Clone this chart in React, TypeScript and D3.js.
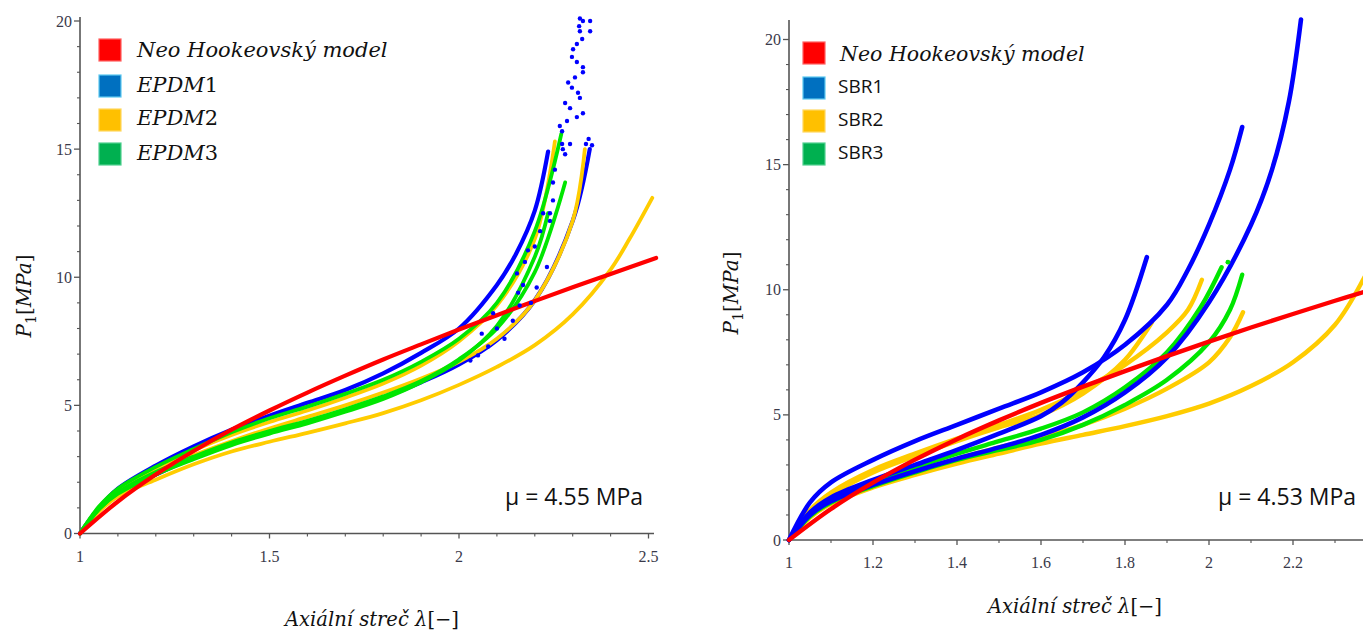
import React from 'react';
import * as d3 from 'd3';

type Pt = [number, number];

// ---------- shared tick values ----------
const yTickValues = [0, 5, 10, 15, 20];
const yTickLabels = ['0', '5', '10', '15', '20'];
const leftXTickValues = [1, 1.5, 2, 2.5];
const leftXTickLabels = ['1', '1.5', '2', '2.5'];
const rightXTickValues = [1, 1.2, 1.4, 1.6, 1.8, 2, 2.2];
const rightXTickLabels = ['1', '1.2', '1.4', '1.6', '1.8', '2', '2.2'];

const leftLegend = ['Neo Hookeovský model', 'EPDM1', 'EPDM2', 'EPDM3'];
const rightLegend = ['Neo Hookeovský model', 'SBR1', 'SBR2', 'SBR3'];
const leftMu = 'μ = 4.55 MPa';
const rightMu = 'μ = 4.53 MPa';

// ---------- left panel (EPDM) ----------
const leftNeoHooke: Pt[] = [[1, 0], [1.1, 1.25], [1.2, 2.3], [1.3, 3.22], [1.4, 4.05], [1.5, 4.8], [1.6, 5.5], [1.7, 6.16], [1.8, 6.79], [1.9, 7.38], [2.0, 7.96], [2.1, 8.52], [2.2, 9.07], [2.3, 9.61], [2.4, 10.13], [2.52, 10.75]];
const epdm1Upper: Pt[] = [[1, 0], [1.05, 1.0], [1.1, 1.75], [1.2, 2.65], [1.3, 3.4], [1.4, 4.05], [1.5, 4.6], [1.6, 5.1], [1.7, 5.6], [1.8, 6.25], [1.9, 7.05], [2.0, 8.0], [2.1, 9.7], [2.15, 10.9], [2.2, 12.6], [2.235, 14.9]];
const epdm1Lower: Pt[] = [[1, 0], [1.05, 0.95], [1.1, 1.55], [1.2, 2.3], [1.3, 2.95], [1.4, 3.5], [1.5, 3.95], [1.6, 4.35], [1.7, 4.8], [1.8, 5.3], [1.9, 5.9], [2.0, 6.6], [2.1, 7.55], [2.2, 9.1], [2.3, 12.2], [2.345, 15.0]];
const epdm1Scatter: Pt[] = [
  [2.319, 20.1], [2.327, 20.0], [2.346, 20.0], [2.317, 19.8], [2.319, 19.6], [2.346, 19.6], [2.325, 19.3], [2.311, 19.1],
  [2.301, 18.9], [2.298, 18.6], [2.311, 18.4], [2.327, 18.2], [2.327, 18.0], [2.306, 17.8], [2.288, 17.6], [2.298, 17.4],
  [2.314, 17.2], [2.319, 17.0], [2.28, 16.8], [2.293, 16.6], [2.327, 16.4], [2.311, 16.25], [2.285, 16.1], [2.266, 15.9],
  [2.272, 15.7], [2.272, 15.2], [2.293, 15.2], [2.274, 15.0], [2.28, 14.8], [2.253, 14.2], [2.248, 13.7], [2.248, 13.0],
  [2.24, 12.5], [2.222, 12.5], [2.24, 12.2], [2.214, 11.8], [2.182, 11.05], [2.174, 10.6], [2.153, 10.15], [2.232, 10.4],
  [2.169, 9.7], [2.156, 9.4], [2.09, 8.6], [2.142, 8.3], [2.1, 8.0], [2.077, 7.3], [2.05, 6.95], [2.03, 6.75],
  [2.205, 9.6], [2.19, 9.0], [2.12, 7.6], [2.2, 11.2], [2.16, 8.9], [2.06, 7.8],
  [2.335, 15.2], [2.351, 15.15], [2.342, 15.4]
];
const epdm2A: Pt[] = [[1, 0], [1.05, 1.0], [1.1, 1.7], [1.2, 2.55], [1.3, 3.25], [1.4, 3.85], [1.5, 4.35], [1.6, 4.8], [1.7, 5.3], [1.8, 5.85], [1.9, 6.55], [2.0, 7.5], [2.1, 8.9], [2.2, 11.5], [2.253, 15.3]];
const epdm2B: Pt[] = [[1, 0], [1.05, 0.95], [1.1, 1.6], [1.2, 2.4], [1.3, 3.05], [1.4, 3.6], [1.5, 4.1], [1.6, 4.55], [1.7, 5.0], [1.8, 5.5], [1.9, 6.05], [2.0, 6.7], [2.1, 7.6], [2.2, 9.1], [2.3, 12.2], [2.332, 15.0]];
const epdm2C: Pt[] = [[1, 0], [1.05, 0.85], [1.1, 1.45], [1.2, 2.1], [1.3, 2.7], [1.4, 3.2], [1.5, 3.58], [1.6, 3.93], [1.7, 4.3], [1.8, 4.7], [1.9, 5.2], [2.0, 5.8], [2.1, 6.5], [2.2, 7.35], [2.3, 8.55], [2.4, 10.3], [2.45, 11.5], [2.51, 13.1]];
const epdm3A: Pt[] = [[1, 0], [1.05, 1.05], [1.1, 1.75], [1.2, 2.6], [1.3, 3.3], [1.4, 3.95], [1.5, 4.5], [1.6, 4.95], [1.7, 5.45], [1.8, 6.0], [1.9, 6.7], [2.0, 7.6], [2.1, 9.0], [2.2, 11.8], [2.27, 15.6]];
const epdm3B: Pt[] = [[1, 0], [1.05, 0.95], [1.1, 1.6], [1.2, 2.4], [1.3, 3.0], [1.4, 3.55], [1.5, 4.0], [1.6, 4.4], [1.7, 4.85], [1.8, 5.35], [1.9, 5.95], [2.0, 6.8], [2.1, 8.0], [2.2, 10.2], [2.28, 13.7]];
const epdm3C: Pt[] = [[1, 0], [1.05, 0.95], [1.1, 1.55], [1.2, 2.3], [1.3, 2.9], [1.4, 3.45], [1.5, 3.9], [1.6, 4.3], [1.7, 4.75], [1.8, 5.25], [1.9, 5.9], [2.0, 6.75], [2.1, 8.1], [2.2, 10.8], [2.235, 12.5]];

// ---------- right panel (SBR) ----------
const rightNeoHooke: Pt[] = [[1, 0], [1.1, 1.24], [1.2, 2.29], [1.3, 3.21], [1.4, 4.03], [1.5, 4.78], [1.6, 5.48], [1.7, 6.13], [1.8, 6.75], [1.9, 7.35], [2.0, 7.93], [2.1, 8.49], [2.2, 9.03], [2.3, 9.56], [2.37, 9.92]];
const sbr1Top: Pt[] = [[1, 0], [1.05, 1.5], [1.1, 2.3], [1.2, 3.2], [1.3, 3.95], [1.4, 4.6], [1.5, 5.25], [1.6, 5.9], [1.7, 6.7], [1.8, 7.8], [1.9, 9.4], [1.95, 10.8], [2.0, 12.6], [2.05, 14.8], [2.079, 16.5]];
const sbr1Mid: Pt[] = [[1, 0], [1.05, 1.1], [1.1, 1.7], [1.2, 2.4], [1.3, 3.0], [1.4, 3.6], [1.5, 4.25], [1.6, 4.95], [1.65, 5.5], [1.7, 6.3], [1.75, 7.3], [1.8, 8.8], [1.852, 11.3]];
const sbr1Low: Pt[] = [[1, 0], [1.05, 1.0], [1.1, 1.55], [1.2, 2.2], [1.3, 2.75], [1.4, 3.25], [1.5, 3.7], [1.6, 4.2], [1.7, 4.9], [1.8, 5.9], [1.9, 7.3], [2.0, 9.5], [2.1, 12.6], [2.15, 14.8], [2.19, 17.5], [2.219, 20.8]];
const sbr2A: Pt[] = [[1, 0], [1.05, 1.2], [1.1, 1.9], [1.2, 2.8], [1.3, 3.45], [1.4, 4.05], [1.5, 4.6], [1.6, 5.2], [1.7, 6.0], [1.8, 7.0], [1.9, 8.3], [1.95, 9.2], [1.983, 10.4]];
const sbr2B: Pt[] = [[1, 0], [1.05, 0.95], [1.1, 1.5], [1.2, 2.2], [1.3, 2.75], [1.4, 3.25], [1.5, 3.7], [1.6, 4.1], [1.7, 4.6], [1.8, 5.25], [1.9, 6.05], [2.0, 7.1], [2.05, 8.1], [2.081, 9.1]];
const sbr2C: Pt[] = [[1, 0], [1.05, 1.15], [1.1, 1.8], [1.2, 2.7], [1.3, 3.35], [1.4, 3.95], [1.5, 4.5], [1.6, 5.0], [1.7, 5.85], [1.8, 7.2], [1.864, 8.7]];
const sbr2D: Pt[] = [[1, 0], [1.05, 0.9], [1.1, 1.45], [1.2, 2.1], [1.3, 2.6], [1.4, 3.05], [1.5, 3.45], [1.6, 3.85], [1.7, 4.2], [1.8, 4.55], [1.9, 4.95], [2.0, 5.45], [2.1, 6.15], [2.2, 7.1], [2.3, 8.6], [2.37, 10.5]];
const sbr3A: Pt[] = [[1, 0], [1.05, 1.0], [1.1, 1.6], [1.2, 2.3], [1.3, 2.9], [1.4, 3.45], [1.5, 3.95], [1.6, 4.45], [1.7, 5.1], [1.8, 6.1], [1.9, 7.5], [1.98, 9.3], [2.03, 10.9]];
const sbr3ADots: Pt[] = [[2.045, 11.1]];
const sbr3B: Pt[] = [[1, 0], [1.05, 0.95], [1.1, 1.5], [1.2, 2.15], [1.3, 2.7], [1.4, 3.2], [1.5, 3.6], [1.6, 4.0], [1.7, 4.6], [1.8, 5.4], [1.9, 6.4], [2.0, 7.9], [2.05, 9.2], [2.079, 10.6]];

// ---------- styles ----------
const LINE_RED = '#ff0000';
const LINE_BLUE = '#0000ff';
const LINE_YELLOW = '#ffcc00';
const LINE_GREEN = '#00e600';
const legendFill = ['#ff0000', '#0070c0', '#ffc000', '#00b050'];
const legendStroke = ['#ff6060', '#5cc8f0', '#ffd860', '#50d090'];
const AXIS = '#555555';
const TICK_FONT = '"Liberation Serif", "Times New Roman", serif';
const MATH_FONT = '"DejaVu Serif", serif';
const SANS = '"Open Sans", "Noto Sans", sans-serif';

type Series = { data: Pt[]; color: string; width: number };

type PanelProps = {
  xDomain: [number, number];
  xRange: [number, number];
  yRange: [number, number];
  xAxisEnd: number;
  yAxisTop: number;
  xTicks: number[];
  xLabels: string[];
  minorStep: number;
  series: Series[];
  dots: { data: Pt[]; color: string; r: number }[];
  legend: string[];
  legendItalicAll: boolean;
  legendFontSize: number;
  legendX: number;
  legendTextX: number;
  legendRows: number[];
  legendBaselines: number[];
  mu: string;
  muX: number;
  muY: number;
  yLabelX: number;
  yLabelY: number;
  xLabelX: number;
  xLabelY: number;
  tickLabelDy: number;
  clipId: string;
};

// italic letters, upright digits (math-style label)
function MathLabel({ text }: { text: string }) {
  const parts = text.match(/[0-9]+|[^0-9]+/g) || [];
  return (
    <>
      {parts.map((s, i) => (
        <tspan key={i} fontStyle={/^[0-9]+$/.test(s) ? 'normal' : 'italic'}>{s}</tspan>
      ))}
    </>
  );
}

function Panel(p: PanelProps) {
  const x = d3.scaleLinear().domain(p.xDomain).range(p.xRange);
  const y = d3.scaleLinear().domain([0, 20]).range(p.yRange);
  const line = d3.line<Pt>().x(d => x(d[0])).y(d => y(d[1])).curve(d3.curveCatmullRom.alpha(0.5));
  const x0 = x(1);
  const y0 = y(0);
  const xEndVal = x.invert(p.xAxisEnd);
  const minorX = d3.range(1 + p.minorStep, xEndVal + 1e-6, p.minorStep).filter(v => !p.xTicks.some(t => Math.abs(t - v) < 1e-6));
  const yTopVal = y.invert(p.yAxisTop);
  const minorY = d3.range(1, yTopVal, 1).filter(v => v % 5 !== 0);
  return (
    <g>
      <defs>
        <clipPath id={p.clipId}>
          <rect x={x0 - 10} y={0} width={p.xAxisEnd - x0 + 20} height={y0 + 10} />
        </clipPath>
      </defs>
      {/* axes */}
      <line x1={x0} y1={y0} x2={p.xAxisEnd} y2={y0} stroke={AXIS} strokeWidth={1.6} />
      <line x1={x0} y1={y0} x2={x0} y2={p.yAxisTop} stroke={AXIS} strokeWidth={1.6} />
      {p.xTicks.map(t => (
        <line key={'xt' + t} x1={x(t)} x2={x(t)} y1={y0} y2={y0 + 5} stroke={AXIS} strokeWidth={1.3} />
      ))}
      {minorX.map(t => (
        <line key={'xm' + t} x1={x(t)} x2={x(t)} y1={y0} y2={y0 + 3} stroke={AXIS} strokeWidth={1.1} />
      ))}
      {yTickValues.map(t => (
        <line key={'yt' + t} x1={x0 - 6} x2={x0} y1={y(t)} y2={y(t)} stroke={AXIS} strokeWidth={1.3} />
      ))}
      {minorY.map(t => (
        <line key={'ym' + t} x1={x0 - 3} x2={x0} y1={y(t)} y2={y(t)} stroke={AXIS} strokeWidth={1.1} />
      ))}
      {p.xTicks.map((t, i) => (
        <text key={'xl' + t} x={x(t)} y={y0 + p.tickLabelDy} textAnchor="middle" fontFamily={TICK_FONT} fontSize={16} fill="#3a3a4a">{p.xLabels[i]}</text>
      ))}
      {yTickValues.map((t, i) => (
        <text key={'yl' + t} x={x0 - 8} y={y(t) + 5.5} textAnchor="end" fontFamily={TICK_FONT} fontSize={16} fill="#3a3a4a">{yTickLabels[i]}</text>
      ))}
      {/* curves */}
      <g clipPath={`url(#${p.clipId})`}>
        {p.series.map((s, i) => (
          <path key={'s' + i} d={line(s.data) || ''} fill="none" stroke={s.color} strokeWidth={s.width} strokeLinecap="round" strokeLinejoin="round" />
        ))}
        {p.dots.map((ds, i) => ds.data.map((d, j) => (
          <circle key={'d' + i + '_' + j} cx={x(d[0])} cy={y(d[1])} r={ds.r} fill={ds.color} />
        )))}
      </g>
      {/* legend */}
      {p.legend.map((lab, i) => (
        <g key={'lg' + i}>
          <rect x={p.legendX} y={p.legendRows[i]} width={22} height={22} fill={legendFill[i]} stroke={legendStroke[i]} strokeWidth={1.2} />
          {i === 0 ? (
            <text x={p.legendTextX} y={p.legendBaselines[i]} fontFamily={MATH_FONT} fontStyle="italic" fontSize={p.legendFontSize} fill="#111">{lab}</text>
          ) : p.legendItalicAll ? (
            <text x={p.legendTextX} y={p.legendBaselines[i]} fontFamily={MATH_FONT} fontSize={p.legendFontSize} fill="#111"><MathLabel text={lab} /></text>
          ) : (
            <text x={p.legendTextX - 2} y={p.legendBaselines[i]} fontFamily={SANS} fontSize={19} fill="#111">{lab}</text>
          )}
        </g>
      ))}
      <text x={p.muX} y={p.muY} fontFamily={SANS} fontSize={23} fill="#111">{p.mu}</text>
      {/* axis titles */}
      <text transform={`translate(${p.yLabelX},${p.yLabelY}) rotate(-90)`} textAnchor="middle" fontFamily={MATH_FONT} fontSize={20} fill="#111">
        <tspan fontStyle="italic">P</tspan>
        <tspan fontSize={14} dy={5}>1</tspan>
        <tspan dy={-5}>[</tspan>
        <tspan fontStyle="italic">MPa</tspan>
        <tspan>]</tspan>
      </text>
      <text x={p.xLabelX} y={p.xLabelY} textAnchor="middle" fontFamily={MATH_FONT} fontSize={19.5} fill="#111">
        <tspan fontStyle="italic">Axiální streč λ</tspan>
        <tspan>[−]</tspan>
      </text>
    </g>
  );
}

export default function App() {
  const leftSeries: Series[] = [
    { data: epdm1Upper, color: LINE_BLUE, width: 4.2 },
    { data: epdm1Lower, color: LINE_BLUE, width: 4.2 },
    { data: epdm2A, color: LINE_YELLOW, width: 3.8 },
    { data: epdm2B, color: LINE_YELLOW, width: 3.8 },
    { data: epdm2C, color: LINE_YELLOW, width: 3.8 },
    { data: epdm3A, color: LINE_GREEN, width: 3.8 },
    { data: epdm3B, color: LINE_GREEN, width: 3.8 },
    { data: epdm3C, color: LINE_GREEN, width: 3.8 },
    { data: leftNeoHooke, color: LINE_RED, width: 4.2 },
  ];
  const rightSeries: Series[] = [
    { data: sbr2A, color: LINE_YELLOW, width: 4.4 },
    { data: sbr2B, color: LINE_YELLOW, width: 4.4 },
    { data: sbr2C, color: LINE_YELLOW, width: 4.4 },
    { data: sbr2D, color: LINE_YELLOW, width: 4.4 },
    { data: sbr3A, color: LINE_GREEN, width: 4.4 },
    { data: sbr3B, color: LINE_GREEN, width: 4.4 },
    { data: sbr1Top, color: LINE_BLUE, width: 4.6 },
    { data: sbr1Mid, color: LINE_BLUE, width: 4.6 },
    { data: sbr1Low, color: LINE_BLUE, width: 4.6 },
    { data: rightNeoHooke, color: LINE_RED, width: 4.4 },
  ];
  return (
    <div style={{ position: 'absolute', left: 0, top: 0, width: 1363, height: 631, background: '#fff' }}>
      <svg width={1363} height={631} viewBox="0 0 1363 631" style={{ display: 'block' }}>
        <rect width={1363} height={631} fill="#fff" />
        <Panel
          xDomain={[1, 2.5]} xRange={[80, 648.5]} yRange={[533.5, 21]}
          xAxisEnd={654} yAxisTop={17}
          xTicks={leftXTickValues} xLabels={leftXTickLabels} minorStep={0.1}
          series={leftSeries}
          dots={[{ data: epdm1Scatter, color: LINE_BLUE, r: 2.2 }]}
          legend={leftLegend} legendItalicAll={true} legendFontSize={21}
          legendX={99} legendTextX={137}
          legendRows={[39, 75, 109, 143]} legendBaselines={[57, 92, 125, 160]}
          mu={leftMu} muX={505} muY={505}
          yLabelX={31} yLabelY={296}
          xLabelX={372} xLabelY={626}
          tickLabelDy={28}
          clipId="clipL"
        />
        <Panel
          xDomain={[1, 2.2]} xRange={[789, 1293]} yRange={[540, 39.5]}
          xAxisEnd={1363} yAxisTop={20}
          xTicks={rightXTickValues} xLabels={rightXTickLabels} minorStep={0.1}
          series={rightSeries}
          dots={[{ data: sbr3ADots, color: LINE_GREEN, r: 2.4 }]}
          legend={rightLegend} legendItalicAll={false} legendFontSize={20.5}
          legendX={803} legendTextX={840}
          legendRows={[42, 77, 110, 143]} legendBaselines={[61, 93, 126, 159]}
          mu={rightMu} muX={1218} muY={505}
          yLabelX={738} yLabelY={293}
          xLabelX={1075} xLabelY={613}
          tickLabelDy={28}
          clipId="clipR"
        />
      </svg>
    </div>
  );
}
